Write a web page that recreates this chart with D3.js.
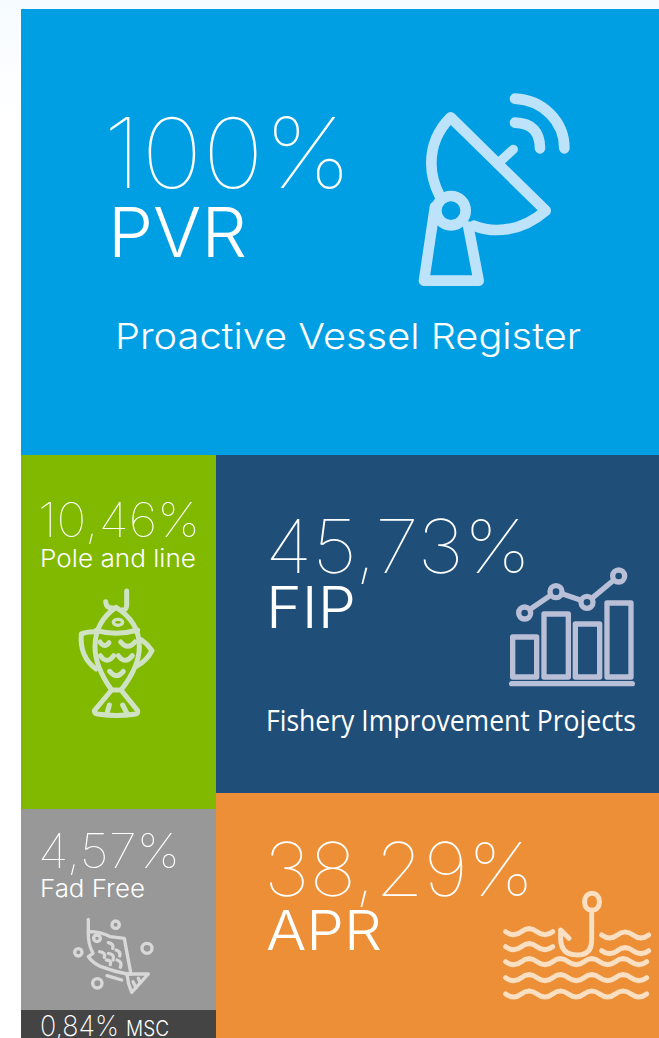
<!DOCTYPE html>
<html>
<head>
<meta charset="utf-8">
<script src="https://cdn.jsdelivr.net/npm/d3@7"></script>
<style>
  html, body { margin: 0; padding: 0; background: #fff; overflow: hidden; }
</style>
</head>
<body>
<div id="chart"></div>
<script>
// values of the blocks, as printed on the picture
var topValue = [100];
var leftLabels = ["Pole and line", "Fad Free", "MSC"];
var leftValues = [10.46, 4.57, 0.84];
var leftColors = ["#80b900", "#989898", "#444444"];
var rightLabels = ["FIP", "APR"];
var rightValues = [45.73, 38.29];
var rightColors = ["#1f4e79", "#ec8f36"];

var svgWidth = 659, svgHeight = 1038;
var big = "Inter", human = "Open Sans";

var svg = d3.select("#chart").append("svg")
  .attr("width", svgWidth)
  .attr("height", svgHeight)
  .style("display", "block");

// faint blue wash the page has behind the blocks, top left
var wash = svg.append("defs").append("linearGradient").attr("id", "wash")
  .attr("x1", 0).attr("y1", 0).attr("x2", 0).attr("y2", 1);
wash.append("stop").attr("offset", 0).attr("stop-color", "#f6fbff");
wash.append("stop").attr("offset", 1).attr("stop-color", "#ffffff");
svg.append("rect").attr("width", svgWidth).attr("height", 120).attr("fill", "url(#wash)");

// columns: share of the lower part
var leftSum = d3.sum(leftValues), rightSum = d3.sum(rightValues);
var xScale = d3.scaleLinear().domain([0, leftSum, leftSum + rightSum]).range([21, 216, 659]);

// rows, each column has its own scale (the blocks of the original are not strictly proportional)
var yTop = d3.scaleLinear().domain([0, 100]).range([9, 455]);
var yLeft = d3.scaleLinear().domain([0, 10.46, 15.03, 15.87]).range([455, 809, 1010, 1050]);
var yRight = d3.scaleLinear().domain([0, rightSum]).range([455, 455 + 338 * rightSum / 45.73]);

svg.append("rect").attr("x", xScale(0)).attr("y", yTop(0))
  .attr("width", xScale(leftSum + rightSum) - xScale(0)).attr("height", yTop(topValue[0]) - yTop(0))
  .attr("fill", "#009fe3");

var leftStart = d3.cumsum([0].concat(leftValues));
svg.selectAll(".left").data(leftValues).enter().append("rect")
  .attr("class", "left")
  .attr("x", xScale(0))
  .attr("y", (d, i) => yLeft(leftStart[i]))
  .attr("width", xScale(leftSum) - xScale(0))
  .attr("height", (d, i) => yLeft(leftStart[i + 1]) - yLeft(leftStart[i]))
  .attr("fill", (d, i) => leftColors[i]);

var rightStart = d3.cumsum([0].concat(rightValues));
svg.selectAll(".right").data(rightValues).enter().append("rect")
  .attr("class", "right")
  .attr("x", xScale(leftSum))
  .attr("y", (d, i) => yRight(rightStart[i]))
  .attr("width", xScale(leftSum + rightSum) - xScale(leftSum))
  .attr("height", (d, i) => yRight(rightStart[i + 1]) - yRight(rightStart[i]))
  .attr("fill", (d, i) => rightColors[i]);

// text helper, width forced to what the original measures
function label(txt, x, y, size, weight, width, family) {
  svg.append("text")
    .attr("x", x).attr("y", y)
    .attr("font-family", family || big)
    .attr("font-size", size)
    .attr("font-weight", weight)
    .attr("fill", "#fff")
    .attr("textLength", width)
    .attr("lengthAdjust", "spacingAndGlyphs")
    .text(txt);
}
var pct = d => String(d).replace(".", ",") + "%";

label(pct(topValue[0]), 103, 188, 97, 100, 249);
label("PVR", 108, 257, 68, 300, 139);
label("Proactive Vessel Register", 115, 349, 36, 300, 466);

label(pct(leftValues[0]), 38, 537, 47, 100, 162);
label(leftLabels[0], 40, 567, 24, 300, 156);
label(pct(rightValues[0]), 265, 573, 74, 100, 266);
label(rightLabels[0], 266, 628, 57, 300, 90);
label("Fishery Improvement Projects", 266, 731, 29, 400, 370, human);
label(pct(rightValues[1]), 264, 896, 74, 100, 270);
label(rightLabels[1], 266, 950, 55, 300, 116);
label(pct(leftValues[1]), 38, 868, 48, 100, 142);
label(leftLabels[1], 40, 897, 24, 300, 105);
label(pct(leftValues[2]), 40, 1036, 28, 200, 79);
label(leftLabels[2], 126, 1036, 21, 300, 43);

// icons, coordinates taken at 3x off the original, hence the scale(1/3)
function icon(ox, oy, color, width) {
  return svg.append("g")
    .attr("transform", `translate(${ox},${oy}) scale(${1 / 3})`)
    .attr("fill", "none").attr("stroke", color).attr("stroke-width", width)
    .attr("stroke-linecap", "round").attr("stroke-linejoin", "round");
}
function draw(g, paths) {
  paths.forEach(p => g.append("path").attr("d", p));
}

// satellite dish
var dish = icon(400, 80, "#bde3fb", 32);
draw(dish, [
  "M118 345 Q94 298 94 250 Q94 170 152 112 L437 392 Q370 450 290 450 Q255 450 222 437",
  "M345 128 Q420 130 420 205",
  "M345 56 C430 60 493 125 493 205",
  "M105 380 L72 602 L236 602 L205 440"
]);
dish.append("circle").attr("cx", 153).attr("cy", 392).attr("r", 44);
dish.append("path").attr("d", "M305 240 L340 208").attr("stroke-width", 28);

// fish on a line
var fish = icon(21, 490, "#cfe3c4", 15);
draw(fish, [
  "M317 303 L317 345 Q317 362 302 360",
  "M254 335 Q255 355 275 354",
  "M285 352 Q222 395 222 470 Q222 530 272 600 L300 600 Q355 530 355 470 Q355 395 285 352 Z",
  "M225 422 Q290 438 350 420",
  "M237 456 Q250 476 264 458",
  "M299 456 Q320 482 342 456",
  "M238 497 Q258 525 278 497",
  "M292 497 Q312 525 334 497",
  "M266 544 Q286 570 307 544",
  "M225 425 Q195 424 181 432 Q175 500 225 537",
  "M362 450 Q380 462 393 482 Q378 512 345 530",
  "M272 600 L220 662 Q220 672 235 673 Q285 680 340 673 Q352 672 350 662 L300 600",
  "M265 645 L258 670",
  "M305 645 L318 670"
]);
fish.append("ellipse").attr("cx", 291).attr("cy", 397).attr("rx", 14).attr("ry", 9).attr("stroke-width", 10);

// bar chart icon
var bars = icon(490, 550, "#b9bfd6", 16);
draw(bars, [
  "M68 261 H140 V381 H68 Z",
  "M162 192 H235 V381 H162 Z",
  "M256 222 H329 V381 H256 Z",
  "M351 159 H423 V381 H351 Z",
  "M65 401 H427",
  "M104 189 L198 125 L291 157 L386 78"
]);
[[104, 189], [198, 125], [291, 157], [386, 78]].forEach(p => {
  bars.append("circle").attr("cx", p[0]).attr("cy", p[1]).attr("r", 18).attr("fill", "#1f4e79");
});

// fish with bubbles
var fish2 = icon(21, 820, "#d8d8d8", 10);
draw(fish2, [
  "M202 298 L202 335",
  "M202 335 Q240 335 268 350 L310 355 Q318 400 330 462 L318 462 Q280 455 240 440 Q215 428 202 410 L216 400 Q200 370 202 335 Z",
  "M318 462 L382 462 L332 517 Q320 490 318 462",
  "M258 467 L302 480",
  "M262 368 Q280 372 275 385",
  "M236 395 Q255 398 250 412",
  "M262 400 Q282 402 276 420",
  "M285 390 Q300 395 296 408",
  "M256 420 Q272 420 268 434",
  "M288 420 Q305 425 298 442",
  "M336 485 L345 503",
  "M352 475 L358 488"
]);
[[228, 355, 10], [284, 314, 11], [172, 397, 11], [378, 385, 15], [229, 490, 14]].forEach(c => {
  fish2.append("circle").attr("cx", c[0]).attr("cy", c[1]).attr("r", c[2]);
});

// hook and waves
var hook = icon(490, 880, "#fbdfc2", 15);
function wave(x0, y, n) {
  var d = `M${x0} ${y} q24 18 47 0`;
  for (var i = 1; i < n; i++) d += " t47 0";
  return d;
}
draw(hook, [
  wave(47, 155, 3), wave(335, 165, 3),
  wave(47, 200, 3), wave(335, 212, 3),
  wave(47, 245, 9), wave(47, 293, 9), wave(47, 342, 9),
  "M305 98 L305 180 Q305 225 262 225 Q212 225 212 175 L212 150 L237 175"
]);
hook.append("rect").attr("x", 284).attr("y", 40).attr("width", 44).attr("height", 51).attr("rx", 22);
</script>
</body>
</html>
